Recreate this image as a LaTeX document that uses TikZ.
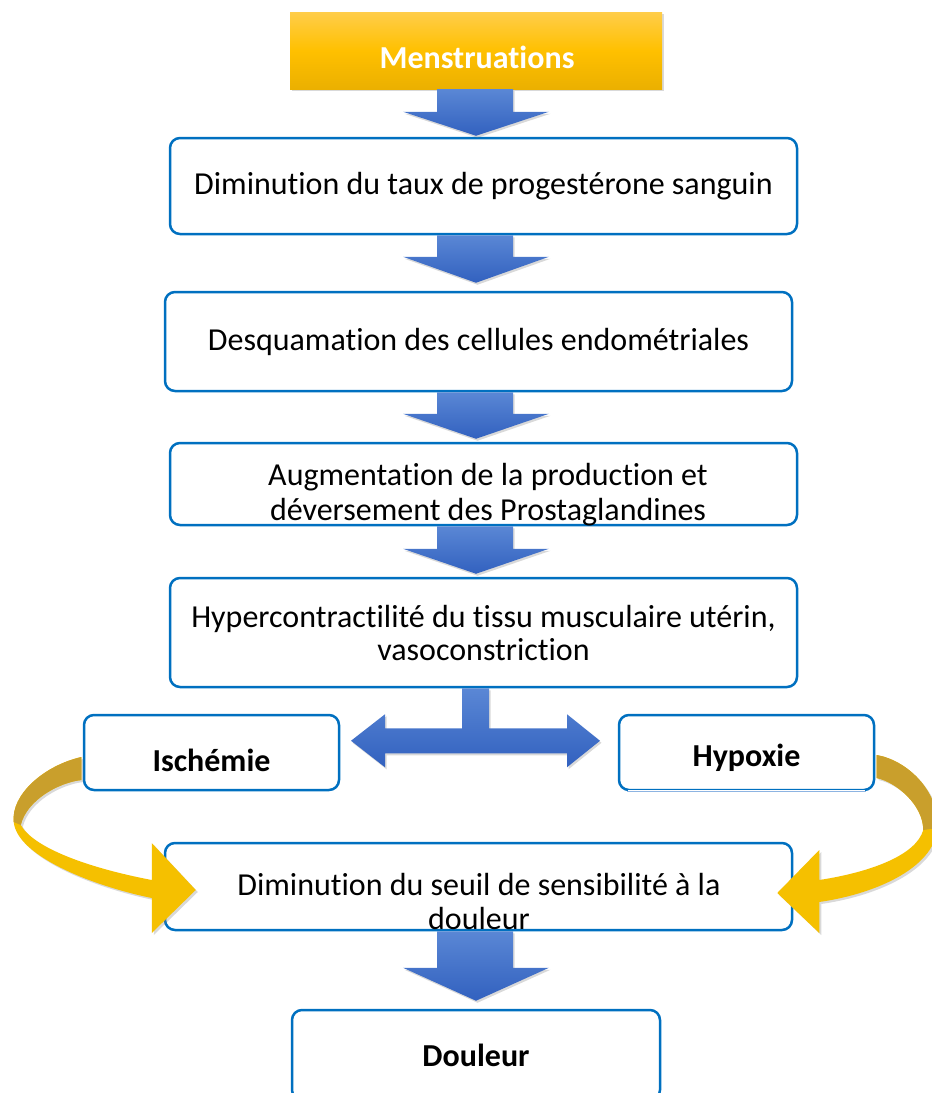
\documentclass[tikz,border=0pt]{standalone}
\usepackage{fontspec}
\setmainfont{Carlito}[Ligatures=NoCommon]
\usetikzlibrary{calc,shadows}
\definecolor{boxblue}{HTML}{0070C0}
\definecolor{hypline}{HTML}{8DB4E2}
\definecolor{arrtop}{HTML}{5A87D5}
\definecolor{arrbot}{HTML}{3261BF}
\definecolor{goldtop}{HTML}{FFCD4A}
\definecolor{goldmid}{HTML}{FFC000}
\definecolor{goldbot}{HTML}{EBB000}
\definecolor{ribdark}{HTML}{C99F2C}
\definecolor{ribbright}{HTML}{F5C000}
\tikzset{
  stepbox/.style={draw=boxblue, line width=2.5pt, rounded corners=10pt, fill=white,
    inner sep=0pt, align=center, font=\fontsize{32}{33}\selectfont},
  txt/.style={inner sep=0pt, align=center, font=\fontsize{32}{34.5}\selectfont},
  btxt/.style={inner sep=0pt, align=center, font=\fontsize{32}{34}\selectfont\bfseries},
  goldbox/.style={top color=goldtop, bottom color=goldbot, middle color=goldmid,
    inner sep=0pt, drop shadow={opacity=0.3, shadow xshift=2pt, shadow yshift=-2pt}},
  blockarrow/.style={top color=arrtop, bottom color=arrbot,
    drop shadow={opacity=0.3, shadow xshift=1.5pt, shadow yshift=-2pt}},
  ribbon/.style={fill=ribbright, drop shadow={opacity=0.3, shadow xshift=2pt, shadow yshift=-2pt}},
  ribbonback/.style={fill=ribdark},
}
% #1 source node, #2 target node, #3 head length, #4 gap between tip and target
\newcommand\blockdown[4]{%
  \path[blockarrow] let \p1=(#1.south), \p2=(#2.north) in
    (437pt,\y1) -- (437pt,{\y2+#4pt+#3pt}) -- (403pt,{\y2+#4pt+#3pt})
    -- (476pt,{\y2+#4pt}) -- (549pt,{\y2+#4pt+#3pt}) -- (513pt,{\y2+#4pt+#3pt})
    -- (513pt,\y1) -- cycle;}
\begin{document}
\begin{tikzpicture}[x=1pt,y=-1pt]
\useasboundingbox (0,0) rectangle (932,1093);

% boxes
\node[goldbox, minimum width=372pt, minimum height=77pt] (men) at (476,50.5) {};
\node[btxt, text=white] (ment) at (477,57) {Menstruations};

\node[stepbox, minimum width=627pt, minimum height=96pt] (b2) at (483.5,186)
  {Diminution du taux de progestérone sanguin};
\node[stepbox, minimum width=627pt, minimum height=99pt] (b3) at (478.5,341.5)
  {Desquamation des cellules endométriales};
\node[stepbox, minimum width=627pt, minimum height=82pt] (b4) at (483.5,484) {};
\node[txt] (b4t) at (488,494.5) {Augmentation de la production et\\déversement des Prostaglandines};
\node[stepbox, minimum width=627pt, minimum height=109pt] (b5) at (483.5,632.5)
  {Hypercontractilité du tissu musculaire utérin,\\vasoconstriction};
\node[stepbox, minimum width=255pt, minimum height=75pt] (isch) at (211.5,752.5) {};
\node[btxt] (ischt) at (211.5,760) {Ischémie};
\node[stepbox, minimum width=255pt, minimum height=75pt] (hyp) at (746.5,752.5) {};
\node[btxt] (hypt) at (746.5,758) {Hypoxie};
\draw[white, line width=3pt] ($(hyp.south west)+(10,0)$) -- ($(hyp.south east)+(-10,0)$);
\draw[hypline, line width=1pt] ($(hyp.south west)+(9,0)$) -- ($(hyp.south east)+(-9,0)$);
\node[stepbox, minimum width=627pt, minimum height=87pt] (b6) at (478.5,886.5) {};
\node[txt] (b6t) at (479,901.5) {Diminution du seuil de sensibilité à la\\douleur};
\node[stepbox, minimum width=368pt, minimum height=90pt, font=\fontsize{32}{34}\selectfont\bfseries]
  (doul) at (476,1055) {Douleur};

% down block arrows
\blockdown{men}{b2}{24}{1}
\blockdown{b2}{b3}{26}{8}
\blockdown{b3}{b4}{25}{3}
\blockdown{b4}{b5}{25}{3}
\blockdown{b6}{doul}{33}{8}

% T-shaped double arrow from b5 to Ischemie / Hypoxie
\begin{scope}[shift={($(b5.south)+(-8,0)$)}]
\path[blockarrow] (-13.5,0) -- (-13.5,40) -- (-90.5,40) -- (-90.5,26) -- (-124.5,52.5)
  -- (-90.5,79) -- (-90.5,65) -- (91.5,65) -- (91.5,79) -- (124.5,52.5) -- (91.5,26)
  -- (91.5,40) -- (13.5,40) -- (13.5,0) -- cycle;
\end{scope}

% curved ribbon arrow: Ischemie -> b6
\begin{scope}[shift={(isch.west)}]
\path[ribbon] (-1.3,4.5) .. controls (-39,13) and (-72,42.5) .. (-69,69.5)
  .. controls (-66,102.5) and (6,132.5) .. (69,145.5) -- (69,180.5) -- (113,137.5)
  -- (69,90.5) -- (69,127.5) .. controls (6,115.5) and (-49,95.5) .. (-62,72.5)
  .. controls (-56,47.5) and (-24,30) .. (-1.3,27.5) -- cycle;
\path[ribbonback] (-1.3,4.5) .. controls (-39,13) and (-72,42.5) .. (-69,69.5)
  -- (-62,72.5) .. controls (-56,47.5) and (-24,30) .. (-1.3,27.5) -- cycle;
\end{scope}

% curved ribbon arrow: Hypoxie -> b6
\begin{scope}[shift={(hyp.east)}]
\path[ribbon] (1.3,2.5) .. controls (31,7.5) and (64,37.5) .. (62,75.5)
  .. controls (60,112.5) and (6,140.5) .. (-56,149.5) -- (-56,180.5) -- (-98,140.5)
  -- (-56,97.5) -- (-56,127.5) .. controls (-4,119.5) and (41,102.5) .. (48,77.5)
  .. controls (48,52.5) and (21,29.5) .. (1.3,25.5) -- cycle;
\path[ribbonback] (1.3,2.5) .. controls (31,7.5) and (64,37.5) .. (62,75.5)
  -- (48,77.5) .. controls (48,52.5) and (21,29.5) .. (1.3,25.5) -- cycle;
\end{scope}
\end{tikzpicture}
\end{document}
